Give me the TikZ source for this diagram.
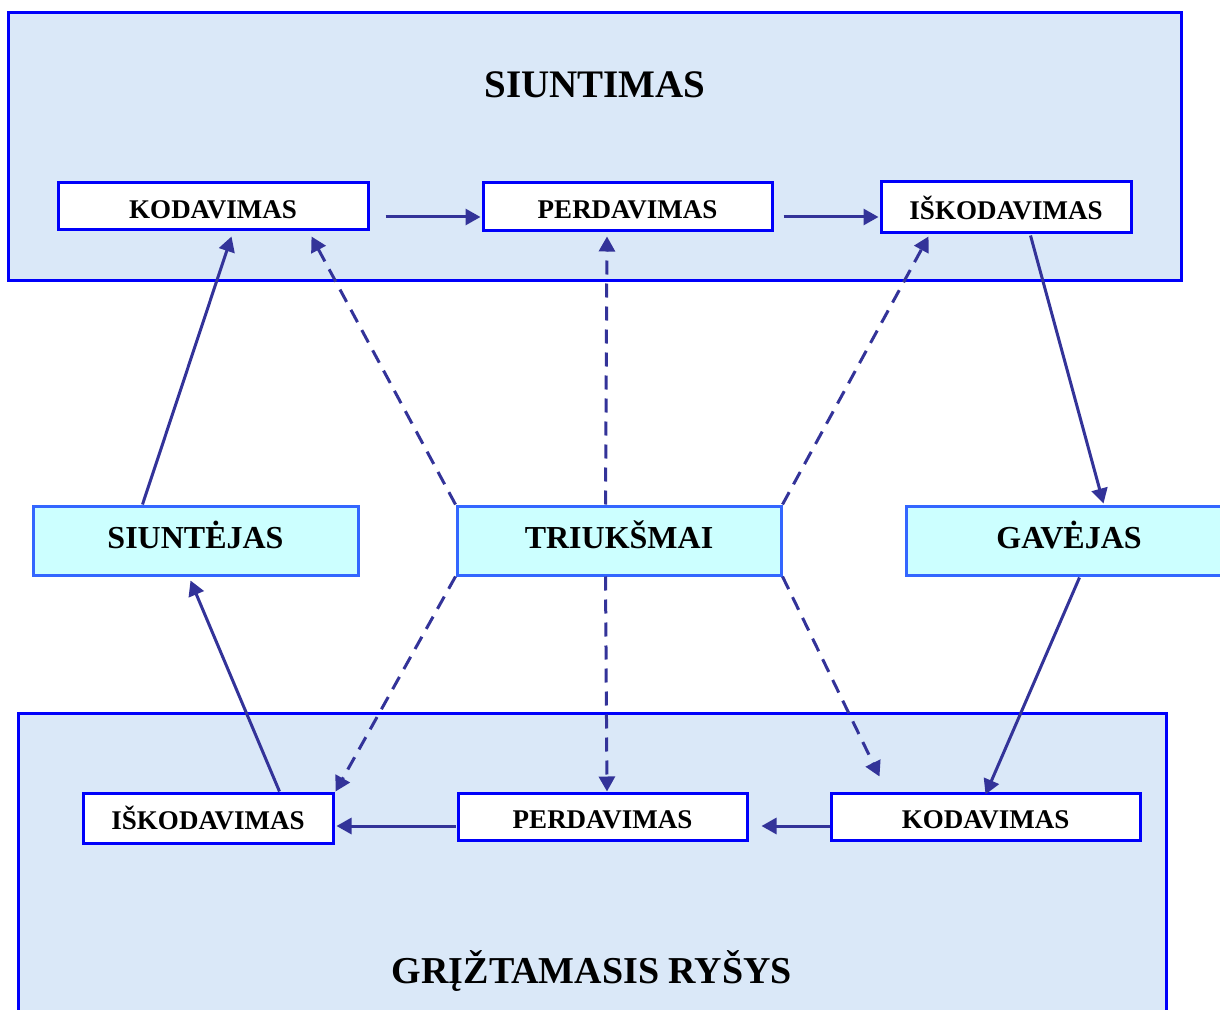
\documentclass[tikz,border=0pt]{standalone}
\usepackage{fontspec}
\setmainfont{Liberation Serif}
\usetikzlibrary{arrows.meta,calc}
\definecolor{panelbg}{RGB}{218,232,248}
\definecolor{panelline}{RGB}{0,0,250}
\definecolor{midfill}{RGB}{204,255,255}
\definecolor{midline}{RGB}{51,102,255}
\definecolor{arrowc}{RGB}{51,51,153}
\tikzset{
  panel/.style={draw=panelline,fill=panelbg,line width=1.5pt},
  smallbox/.style={draw=panelline,fill=white,line width=1.5pt,inner sep=0pt,
    text height=11.9pt,text depth=0pt,
    font=\fontsize{13.5}{15}\selectfont\bfseries},
  midbox/.style={draw=midline,fill=midfill,line width=1.5pt,inner sep=0pt,
    text height=10.6pt,text depth=3pt,
    font=\fontsize{16}{18}\selectfont\bfseries},
  solidarrow/.style={draw=arrowc,line width=1.5pt,-{Triangle[length=7.5pt,width=8pt]}},
  dasharrow/.style={solidarrow,dash pattern=on 7pt off 4.5pt},
  title/.style={font=\fontsize{19.5}{22}\selectfont\bfseries,inner sep=0pt,anchor=base}
}
\begin{document}
\begin{tikzpicture}[x=0.5pt,y=-0.5pt]
\useasboundingbox (0,0) rectangle (1220,1010);
\clip (0,0) rectangle (1220,1010);
\fill[white] (0,0) rectangle (1220,1010);
% panels
\draw[panel] (8,13) rectangle (1181,281);
\draw[panel] (18,713) rectangle (1166,1030);
\node[title] (ttop) at (595,98) {SIUNTIMAS};
\node[title,font=\fontsize{19}{22}\selectfont\bfseries] (tbot) at (592,983) {GRĮŽTAMASIS RYŠYS};
% top boxes
\node[smallbox,minimum width=155pt,minimum height=23.5pt] (k1) at (213,206.5) {KODAVIMAS};
\node[smallbox,minimum width=144.5pt,minimum height=24pt] (p1) at (627.5,207) {PERDAVIMAS};
\node[smallbox,minimum width=125pt,minimum height=25.5pt] (i1) at (1006,207.5) {IŠKODAVIMAS};
% middle boxes
\node[midbox,minimum width=162.5pt,minimum height=34.5pt] (sender) at (195.5,540.5) {SIUNTĖJAS};
\node[midbox,minimum width=162pt,minimum height=34.5pt] (noise) at (619,540.5) {TRIUKŠMAI};
\node[midbox,minimum width=163pt,minimum height=34.5pt] (recv) at (1069,540.5) {GAVĖJAS};
% bottom boxes
\node[smallbox,minimum width=125pt,minimum height=25pt] (i2) at (208,818) {IŠKODAVIMAS};
\node[smallbox,minimum width=144.5pt,minimum height=23.5pt] (p2) at (602.5,816.5) {PERDAVIMAS};
\node[smallbox,minimum width=154.5pt,minimum height=23.5pt] (k2) at (985.5,816.5) {KODAVIMAS};
% horizontal arrows
\draw[solidarrow] ($(k1.east)+(16,10.5)$) -- ($(p1.west)+(-1,10)$);
\draw[solidarrow] ($(p1.east)+(10,10)$) -- ($(i1.west)+(-1,9.5)$);
\draw[solidarrow] ($(p2.west)+(-1,9.5)$) -- ($(i2.east)+(2,8)$);
\draw[solidarrow] ($(k2.west)+(0,9.5)$) -- ($(p2.east)+(13,9.5)$);
% solid diagonal arrows
\draw[solidarrow] ($(sender.north west)+(111,0)$) -- ($(k1.south west)+(175,5)$);
\draw[solidarrow] ($(i2.north west)+(198,0)$) -- ($(sender.south west)+(159,4)$);
\draw[solidarrow] ($(i1.south west)+(151,1)$) -- ($(recv.north west)+(199,-1)$);
\draw[solidarrow] ($(recv.south west)+(175,1)$) -- ($(k2.north)+(0,3)$);
% dashed arrows
\draw[dasharrow] (noise.north west) -- ($(k1.south east)+(-58,5)$);
\draw[dasharrow] ($(noise.north west)+(150,0)$) -- ($(p1.south)+(-20.5,4)$);
\draw[dasharrow] (noise.north east) -- ($(i1.south west)+(49,2)$);
\draw[dasharrow] (noise.south west) -- ($(i2.north east)+(1,0)$);
\draw[dasharrow] ($(noise.south west)+(150,0)$) -- ($(p2.north)+(4.5,0)$);
\draw[dasharrow] (noise.south east) -- ($(k2.north west)+(50,-15)$);
\end{tikzpicture}
\end{document}
